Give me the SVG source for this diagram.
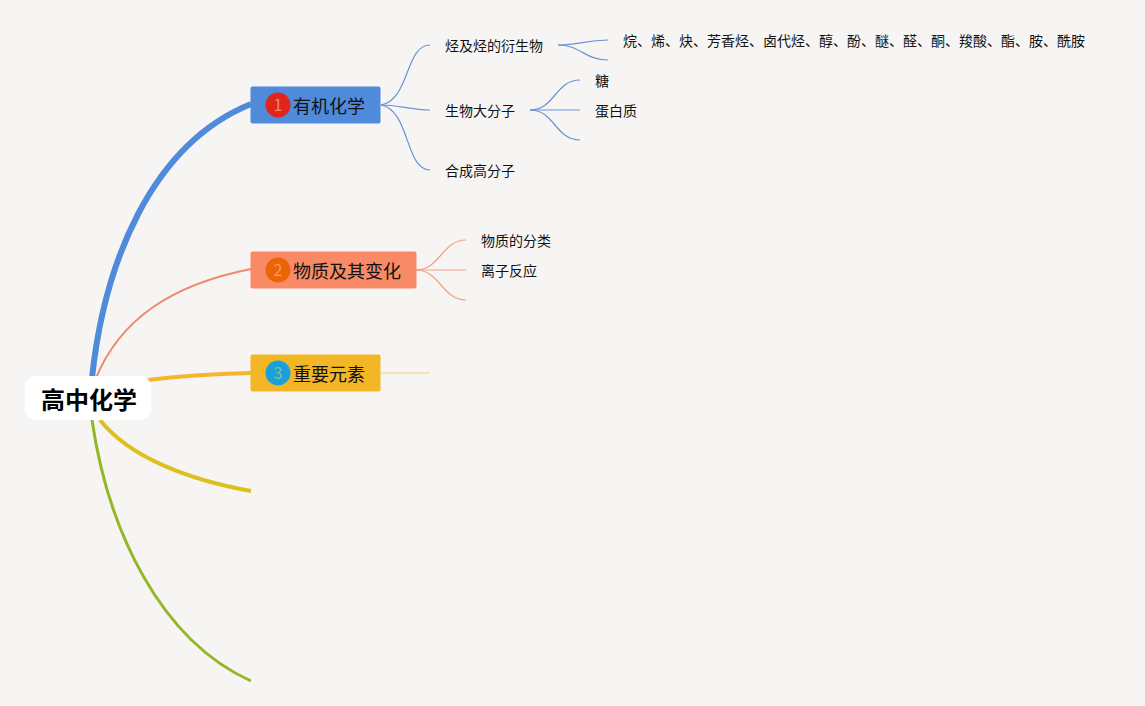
<svg xmlns="http://www.w3.org/2000/svg" width="1145" height="706" viewBox="0 0 1145 706">
<style>
text{font-family:"Noto Sans CJK SC","Liberation Sans",sans-serif;fill:#111}
.c{fill:none;stroke-linecap:butt}
.t1{font-size:18px}
.t2{font-size:14px}
.num{font-size:16px;text-anchor:middle}
.b{stroke:#6a94d4;stroke-width:1.200}
.o{stroke:#f2a084;stroke-width:1.200}
</style>
<rect width="1145" height="706" fill="#f7f5f4"/>
<g id="connectors">
<path class="c" d="M92 378C104 265 150 145 251 104" stroke="#4f8adb" stroke-width="6"/>
<path class="c" d="M96 378C120 320 170 285 251 269" stroke="#f0896a" stroke-width="2"/>
<path class="c" d="M148 380C180 376 215 374 251 373" stroke="#f2b72b" stroke-width="4"/>
<path class="c" d="M100 420C130 458 190 480 251 491" stroke="#dcc11e" stroke-width="4"/>
<path class="c" d="M92 420C108 530 160 640 251 681" stroke="#92b82a" stroke-width="3"/>
<path class="c b" d="M381 105C410 100 405 45 430 45"/>
<path class="c b" d="M381 105C400 105 410 110 430 110"/>
<path class="c b" d="M381 105C410 110 405 170 430 170"/>
<path class="c b" d="M558 45C580 45 585 40 608 40"/>
<path class="c b" d="M558 45C580 45 585 60 608 60"/>
<path class="c b" d="M530 110C555 110 555 80 580 80"/>
<path class="c b" d="M530 110H580"/>
<path class="c b" d="M530 110C555 110 555 140 580 140"/>
<path class="c o" d="M416 270C440 270 442 240 466 240"/>
<path class="c o" d="M416 270H466"/>
<path class="c o" d="M416 270C440 270 442 300 466 300"/>
<path class="c" d="M381 373H430" stroke="#f8cf78" stroke-width="1.200"/>
</g>
<g id="root">
<rect x="25" y="376" width="126" height="44" rx="11" fill="#fff"/>
<text x="41" y="409" font-size="24" font-weight="700" style="fill:#000">高中化学</text>
</g>
<g id="n1">
<rect x="250.500" y="86.500" width="130" height="37" rx="2" fill="#4f8adb"/>
<circle cx="278" cy="105" r="12.500" fill="#e1251b"/>
<text class="num" x="278" y="111" style="fill:#f08a70">1</text>
<text class="t1" x="293" y="113">有机化学</text>
</g>
<g id="n2">
<rect x="250.500" y="251.500" width="166" height="37" rx="2" fill="#f98a66"/>
<circle cx="278" cy="270" r="12.500" fill="#ec6408"/>
<text class="num" x="278" y="276" style="fill:#f49a5a">2</text>
<text class="t1" x="293" y="278">物质及其变化</text>
</g>
<g id="n3">
<rect x="250.500" y="354.500" width="130" height="37" rx="2" fill="#f3b725"/>
<circle cx="278" cy="373" r="12.500" fill="#1c9fdb"/>
<text class="num" x="278" y="379" style="fill:#7fbf9a">3</text>
<text class="t1" x="293" y="381">重要元素</text>
</g>
<g id="n1-1"><text class="t2" x="445" y="51">烃及烃的衍生物</text></g>
<g id="n1-2"><text class="t2" x="445" y="116">生物大分子</text></g>
<g id="n1-3"><text class="t2" x="445" y="176">合成高分子</text></g>
<g id="n1-1-1"><text class="t2" x="623" y="46">烷、烯、炔、芳香烃、卤代烃、醇、酚、醚、醛、酮、羧酸、酯、胺、酰胺</text></g>
<g id="n1-2-1"><text class="t2" x="595" y="86">糖</text></g>
<g id="n1-2-2"><text class="t2" x="595" y="116">蛋白质</text></g>
<g id="n2-1"><text class="t2" x="481" y="246">物质的分类</text></g>
<g id="n2-2"><text class="t2" x="481" y="276">离子反应</text></g>
</svg>
